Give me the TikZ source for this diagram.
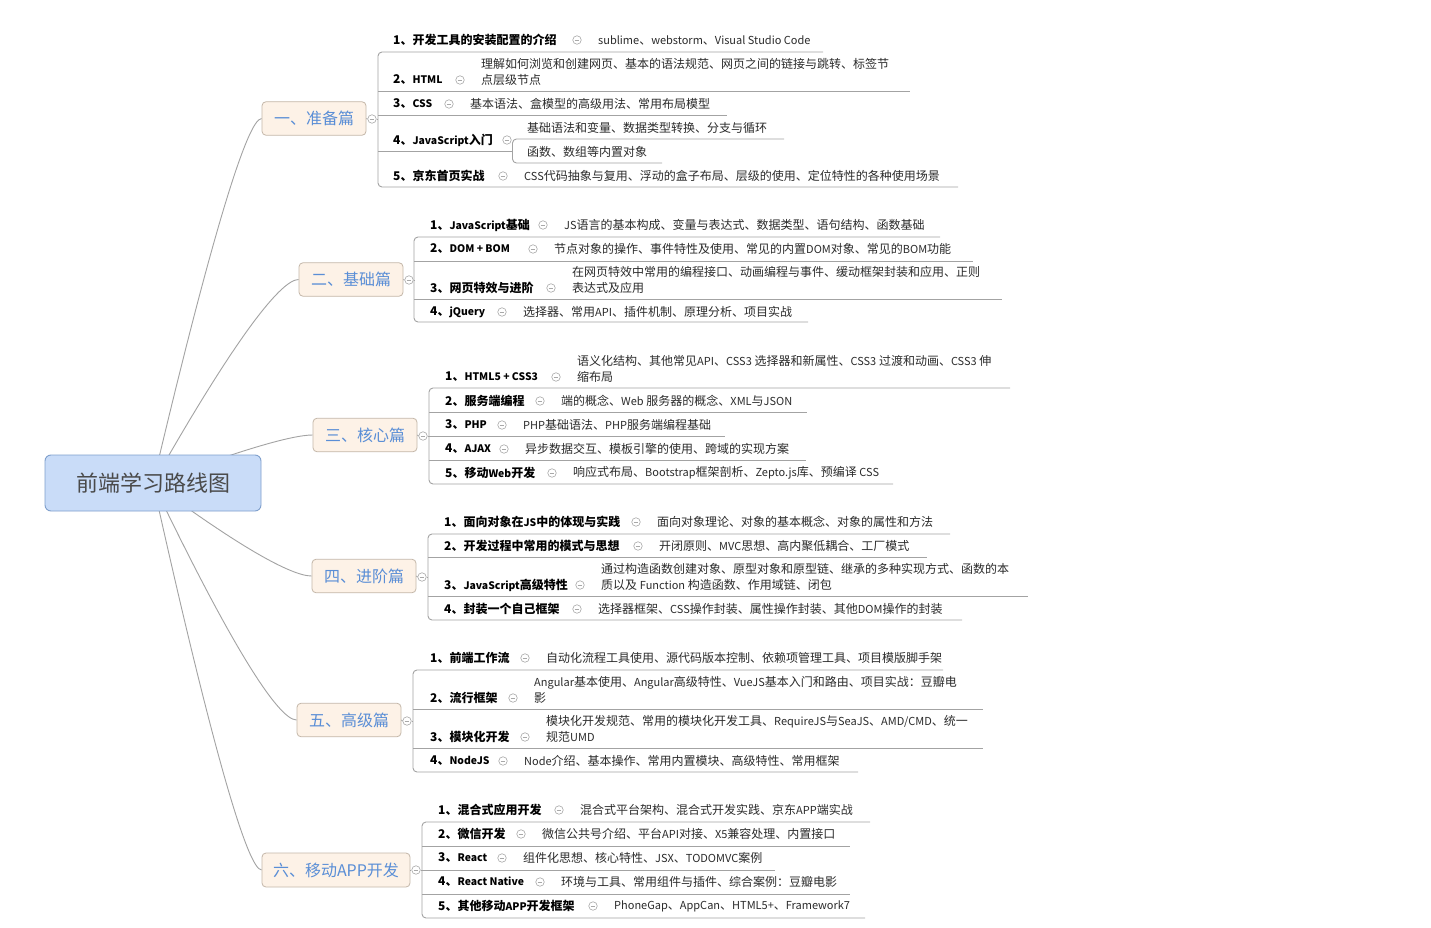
\documentclass[tikz,border=0pt]{standalone}
\usepackage{fontspec}
\setmainfont{Noto Sans CJK SC}
\usetikzlibrary{calc,backgrounds}
\definecolor{rootfill}{HTML}{C9DCF8}
\definecolor{rootdraw}{HTML}{7F9FCC}
\definecolor{roottext}{HTML}{4A4A4A}
\definecolor{mainfill}{HTML}{FDF2E7}
\definecolor{maindraw}{HTML}{C4B7A9}
\definecolor{mainblue}{HTML}{5A8ED6}
\definecolor{linegray}{HTML}{A3A3A3}
\definecolor{clgray}{HTML}{A8A8A8}
\definecolor{txt}{HTML}{2B2B2B}
\newcommand\lt[1]{{\fontsize{11}{16}\selectfont #1}}
\newcommand\lb[1]{{\fontsize{10.4}{16}\selectfont #1}}
\tikzset{
  lbl/.style={anchor=west, inner sep=0pt, font=\fontsize{12}{16}\selectfont\bfseries, text=black},
  det/.style={anchor=west, inner sep=0pt, align=left, font=\fontsize{12}{16}\selectfont, text=txt},
  cl/.style={circle, draw=clgray, line width=0.6pt, minimum size=8.5pt, inner sep=0pt, fill=white,
    path picture={\draw[clgray, line width=0.7pt] ($(path picture bounding box.center)+(-2.3pt,0)$) -- ($(path picture bounding box.center)+(2.3pt,0)$);}},
  ul/.style={draw=linegray, line width=0.9pt},
  branch/.style={draw=linegray, line width=0.9pt},
  rootbox/.style={draw=rootdraw, fill=rootfill, line width=0.9pt, rounded corners=6pt, minimum width=216pt, minimum height=56pt, text=roottext, font=\fontsize{22}{24}\selectfont},
  mainbox/.style={draw=maindraw, fill=mainfill, line width=0.8pt, rounded corners=4pt, minimum width=104pt, minimum height=33.5pt, text=mainblue, font=\fontsize{16}{18}\selectfont},
}
% #1 id, #2 label x, #3 label y, #4 label, #5 circle x, #6 detail y, #7 detail, #8 underline y, #9 underline end x
\newcommand\rowi[9]{%
  \node[lbl] (#1l) at (#2,#3) {#4};
  \node[cl] (#1c) at (#5,#3) {};
  \node[det] (#1d) at (#5+21,#6) {#7};
  \coordinate (#1e) at (#9,#8);
}
\newcommand\bracketline[3]{\draw[ul, rounded corners=4pt] (#2) -- (#2 -| #1) -- (#3 -| #1) -- (#3);}
\newcommand\midline[2]{\draw[ul] (#2 -| #1) -- (#2);}
\newcommand\mainlink[2]{\draw[ul] (#1.east) -- (#1c.west); \draw[ul] (#1c.east) -- (#1c.east -| #2);}
\newcommand\branchto[1]{\draw[branch] let \p1=(root.center), \p2=(#1.west) in (\p1) .. controls ({\x1+0.53*(\x2-\x1)},{\y1+0.67*(\y2-\y1)}) and ({\x1+0.87*(\x2-\x1)},\y2) .. (\p2);}

\begin{document}
\begin{tikzpicture}[x=1pt,y=-1pt]
\useasboundingbox (0,0) rectangle (1431,928);

% root and main topics
\node[rootbox] (root) at (153,483) {前端学习路线图};
\node[mainbox] (m1) at (314,118.5) {一、准备篇};
\node[mainbox] (m2) at (351,279.5) {二、基础篇};
\node[mainbox] (m3) at (365,435) {三、核心篇};
\node[mainbox] (m4) at (364,576) {四、进阶篇};
\node[mainbox] (m5) at (349,720) {五、高级篇};
\node[mainbox, minimum width=148pt, minimum height=34pt] (m6) at (336,870) {六、移动APP开发};

\node[cl] (m1c) at (372,119) {};
\node[cl] (m2c) at (409,280) {};
\node[cl] (m3c) at (423,436) {};
\node[cl] (m4c) at (422,577) {};
\node[cl] (m5c) at (407,721) {};
\node[cl] (m6c) at (416,870) {};

\coordinate (s1b) at (378,0);
\coordinate (s2b) at (414,0);
\coordinate (s3b) at (429,0);
\coordinate (s4b) at (428,0);
\coordinate (s5b) at (413,0);
\coordinate (s6b) at (422,0);

% ---------- section 1
\rowi{a1}{393}{40}{1、开发工具的安装配置的介绍}{577}{40}{\lt{sublime}、\lt{webstorm}、\lt{Visual Studio Code}}{52}{823}
\rowi{a2}{393}{80}{2、\lb{HTML}}{460}{72}{理解如何浏览和创建网页、基本的语法规范、网页之间的链接与跳转、标签节\\点层级节点}{91}{910}
\rowi{a3}{393}{104}{3、\lb{CSS}}{449}{104}{基本语法、盒模型的高级用法、常用布局模型}{115}{727}
\node[lbl] (a4l) at (393,140) {4、\lb{JavaScript}入门};
\node[cl] (a4c) at (507,140) {};
\coordinate (a4e) at (512.5,151);
\node[det] (a4s1) at (527,128) {基础语法和变量、数据类型转换、分支与循环};
\node[det] (a4s2) at (527,152) {函数、数组等内置对象};
\coordinate (a4s1e) at (784,139);
\coordinate (a4s2e) at (662,163);
\rowi{a5}{393}{176}{5、京东首页实战}{503}{176}{\lt{CSS}代码抽象与复用、浮动的盒子布局、层级的使用、定位特性的各种使用场景}{187}{958}
\bracketline{s1b}{a1e}{a5e}
\midline{s1b}{a2e}
\midline{s1b}{a3e}
\midline{s1b}{a4e}
\bracketline{a4e}{a4s1e}{a4s2e}
\mainlink{m1}{s1b}

% ---------- section 2
\rowi{b1}{430}{225}{1、\lb{JavaScript}基础}{543}{225}{\lt{JS}语言的基本构成、变量与表达式、数据类型、语句结构、函数基础}{237}{940}
\rowi{b2}{430}{249}{2、\lb{DOM + BOM}}{533}{249}{节点对象的操作、事件特性及使用、常见的内置\lt{DOM}对象、常见的\lt{BOM}功能}{261}{973}
\rowi{b3}{430}{288}{3、网页特效与进阶}{551}{280}{在网页特效中常用的编程接口、动画编程与事件、缓动框架封装和应用、正则\\表达式及应用}{299}{1002}
\rowi{b4}{430}{312}{4、\lb{jQuery}}{502}{312}{选择器、常用\lt{API}、插件机制、原理分析、项目实战}{322}{808}
\bracketline{s2b}{b1e}{b4e}
\midline{s2b}{b2e}
\midline{s2b}{b3e}
\mainlink{m2}{s2b}

% ---------- section 3
\rowi{c1}{445}{377}{1、\lb{HTML5 + CSS3}}{556}{369}{语义化结构、其他常见\lt{API}、\lt{CSS3} 选择器和新属性、\lt{CSS3} 过渡和动画、\lt{CSS3} 伸\\缩布局}{388}{1010}
\rowi{c2}{445}{401}{2、服务端编程}{540}{401}{端的概念、\lt{Web} 服务器的概念、\lt{XML}与\lt{JSON}}{412}{807}
\rowi{c3}{445}{425}{3、\lb{PHP}}{502}{425}{\lt{PHP}基础语法、\lt{PHP}服务端编程基础}{436}{725}
\rowi{c4}{445}{449}{4、\lb{AJAX}}{504}{449}{异步数据交互、模板引擎的使用、跨域的实现方案}{460}{806}
\rowi{c5}{445}{473}{5、移动\lb{Web}开发}{552}{473}{响应式布局、\lt{Bootstrap}框架剖析、\lt{Zepto.js}库、预编译 \lt{CSS}}{484}{893}
\bracketline{s3b}{c1e}{c5e}
\midline{s3b}{c2e}
\midline{s3b}{c3e}
\midline{s3b}{c4e}
\mainlink{m3}{s3b}

% ---------- section 4
\rowi{d1}{444}{522}{1、面向对象在\lb{JS}中的体现与实践}{636}{522}{面向对象理论、对象的基本概念、对象的属性和方法}{534}{950}
\rowi{d2}{444}{546}{2、开发过程中常用的模式与思想}{638}{546}{开闭原则、\lt{MVC}思想、高内聚低耦合、工厂模式}{557}{927}
\rowi{d3}{444}{585}{3、\lb{JavaScript}高级特性}{580}{577}{通过构造函数创建对象、原型对象和原型链、继承的多种实现方式、函数的本\\质以及 \lt{Function} 构造函数、作用域链、闭包}{596}{1028}
\rowi{d4}{444}{609}{4、封装一个自己框架}{577}{609}{选择器框架、\lt{CSS}操作封装、属性操作封装、其他\lt{DOM}操作的封装}{620}{962}
\bracketline{s4b}{d1e}{d4e}
\midline{s4b}{d2e}
\midline{s4b}{d3e}
\mainlink{m4}{s4b}

% ---------- section 5
\rowi{e1}{430}{658}{1、前端工作流}{525}{658}{自动化流程工具使用、源代码版本控制、依赖项管理工具、项目模版脚手架}{670}{943}
\rowi{e2}{430}{698}{2、流行框架}{513}{690}{\lt{Angular}基本使用、\lt{Angular}高级特性、\lt{VueJS}基本入门和路由、项目实战：豆瓣电\\影}{709}{983}
\rowi{e3}{430}{737}{3、模块化开发}{525}{729}{模块化开发规范、常用的模块化开发工具、\lt{RequireJS}与\lt{SeaJS}、\lt{AMD/CMD}、统一\\规范\lt{UMD}}{748}{983}
\rowi{e4}{430}{761}{4、\lb{NodeJS}}{503}{761}{\lt{Node}介绍、基本操作、常用内置模块、高级特性、常用框架}{772}{858}
\bracketline{s5b}{e1e}{e4e}
\midline{s5b}{e2e}
\midline{s5b}{e3e}
\mainlink{m5}{s5b}

% ---------- section 6
\rowi{f1}{438}{810}{1、混合式应用开发}{559}{810}{混合式平台架构、混合式开发实践、京东\lt{APP}端实战}{822}{870}
\rowi{f2}{438}{834}{2、微信开发}{521}{834}{微信公共号介绍、平台\lt{API}对接、\lt{X5}兼容处理、内置接口}{846}{850}
\rowi{f3}{438}{858}{3、\lb{React}}{502}{858}{组件化思想、核心特性、\lt{JSX}、\lt{TODOMVC}案例}{870}{775}
\rowi{f4}{438}{882}{4、\lb{React Native}}{540}{882}{环境与工具、常用组件与插件、综合案例：豆瓣电影}{894}{850}
\rowi{f5}{438}{906}{5、其他移动\lb{APP}开发框架}{593}{906}{\lt{PhoneGap}、\lt{AppCan}、\lt{HTML5+}、\lt{Framework7}}{918}{865}
\bracketline{s6b}{f1e}{f5e}
\midline{s6b}{f2e}
\midline{s6b}{f3e}
\midline{s6b}{f4e}
\mainlink{m6}{s6b}

\begin{pgfonlayer}{background}
  \fill[white] (0,0) rectangle (1431,928);
  \branchto{m1}
  \branchto{m2}
  \branchto{m3}
  \branchto{m4}
  \branchto{m5}
  \branchto{m6}
\end{pgfonlayer}
\end{tikzpicture}
\end{document}
